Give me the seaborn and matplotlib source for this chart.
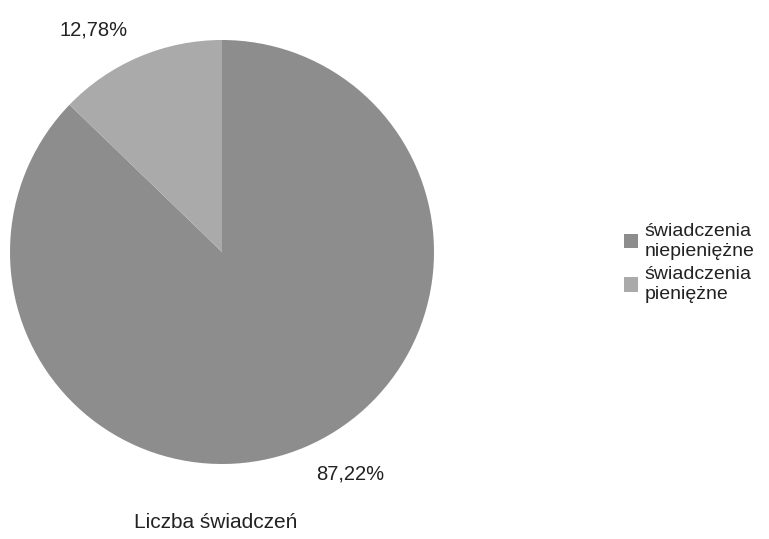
import matplotlib
matplotlib.use("Agg")
import matplotlib.pyplot as plt
import seaborn as sns

# dane
categories = ["świadczenia\nniepieniężne", "świadczenia\npieniężne"]
shares = [87.22, 12.78]
pct_labels = ["87,22%", "12,78%"]
title = "Liczba świadczeń"

sns.set_theme(style="white")
plt.rcParams['font.family'] = ['Liberation Sans', 'DejaVu Sans']

colors = ["#8d8d8d", "#aaaaaa"]

fig = plt.figure(figsize=(7.69, 5.39), dpi=100)
ax = fig.add_axes([10 / 769, 75 / 539, 424 / 769, 424 / 539])

wedges, texts = ax.pie(shares, labels=pct_labels, colors=colors, startangle=90,
                       counterclock=False, labeldistance=1.14,
                       wedgeprops=dict(linewidth=0),
                       textprops=dict(fontsize=14.5, color="#222222"))
ax.set_xlim(-1, 1)
ax.set_ylim(-1, 1)
ax.set_aspect("equal")

fig.legend(wedges, categories, loc="center left", bbox_to_anchor=(606 / 769, 1 - 263 / 539),
           frameon=False, fontsize=14, handlelength=0.75, handleheight=0.75,
           handletextpad=0.35, labelspacing=0.35, labelcolor="#222222")

fig.text(216 / 769, 1 - 522 / 539, title, ha="center", va="center",
         fontsize=15, color="#222222")

plt.savefig("out.png", dpi=100)
plt.close()
